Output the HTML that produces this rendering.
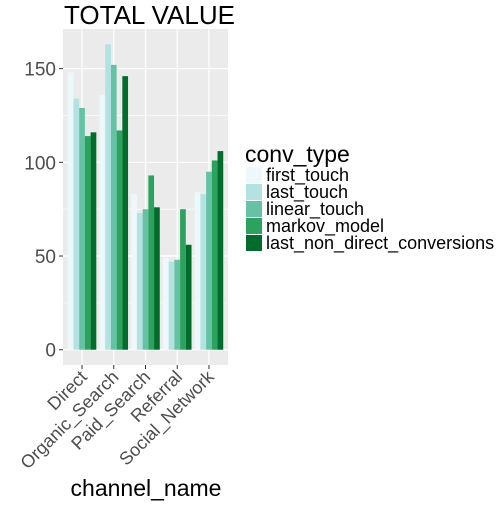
<!DOCTYPE html>
<html><head><meta charset="utf-8"><style>
body{margin:0;background:#fff;font-family:"Liberation Sans",sans-serif}
</style></head><body>
<svg id="c" width="504" height="504" xmlns="http://www.w3.org/2000/svg">
<text x="64" y="24" font-size="26" fill="#000">TOTAL VALUE</text>
<rect x="63" y="29" width="165" height="336" fill="#ebebeb"/>
<g id="grid"></g><g id="bars"></g><g id="axes"></g>
<text x="146" y="496" font-size="23" text-anchor="middle">channel_name</text>
<g id="legend"></g>
</svg>
<script>
const categories=["Direct","Organic_Search","Paid_Search","Referral","Social_Network"];
const seriesNames=["first_touch","last_touch","linear_touch","markov_model","last_non_direct_conversions"];
const firstTouch=[148,136,83,49,84];
const lastTouch=[134,163,73,47,83];
const linearTouch=[129,152,75,48,95];
const markovModel=[114,117,93,75,101];
const lastNonDirect=[116,146,76,56,106];
const yTicks=[0,50,100,150];
const series=[firstTouch,lastTouch,linearTouch,markovModel,lastNonDirect];
const colors=["#edf8fb","#b2e2e2","#66c2a4","#2ca25f","#006d2c"];
const NS="http://www.w3.org/2000/svg";
const px0=63,px1=228,py0=29,py1=365;
const ymin=-8.15,ymax=171.15;
const y=v=>py1-(v-ymin)/(ymax-ymin)*(py1-py0);
const step=(px1-px0)/(categories.length+0.2);
const x=i=>px0+step*(0.6+i);
function mk(t,a,p){const e=document.createElementNS(NS,t);for(const k in a)e.setAttribute(k,a[k]);document.getElementById(p).appendChild(e);return e;}
for(let i=0;i<yTicks.length-1;i++){const m=(yTicks[i]+yTicks[i+1])/2;
const g=mk("line",{x1:px0,x2:px1,y1:y(m),y2:y(m),stroke:"#fff","stroke-width":0.6},"grid");

}
yTicks.forEach(t=>{const g=mk("line",{x1:px0,x2:px1,y1:y(t),y2:y(t),stroke:"#fff","stroke-width":1.2},"grid");


const tk=mk("line",{x1:px0-4,x2:px0,y1:y(t),y2:y(t),stroke:"#333","stroke-width":1},"axes");


const l=mk("text",{x:px0-7,y:y(t)+7,"font-size":19,fill:"#4d4d4d","text-anchor":"end"},"axes");l.textContent=t;

});
categories.forEach((c,i)=>{const g=mk("line",{x1:x(i),x2:x(i),y1:py0,y2:py1,stroke:"#fff","stroke-width":1.2},"grid");


const tk=mk("line",{x1:x(i),x2:x(i),y1:py1,y2:py1+4,stroke:"#333"},"axes");


const l=mk("text",{"font-size":18,fill:"#4d4d4d","text-anchor":"end",transform:`translate(${x(i)+6},${py1+13}) rotate(-45)`},"axes");l.textContent=c;


const bw=step*0.9/series.length;
series.forEach((s,j)=>{const b=mk("rect",{x:x(i)-step*0.45+j*bw,y:y(s[i]),width:bw,height:y(0)-y(s[i]),fill:colors[j]},"bars");

});});
const lt=mk("text",{x:245,y:162,"font-size":23},"legend");lt.textContent="conv_type";


seriesNames.forEach((n,j)=>{const r=mk("rect",{x:246,y:167+j*17,width:16,height:16,fill:colors[j]},"legend");


const t=mk("text",{x:266,y:181+j*17,"font-size":18},"legend");t.textContent=n;

});
</script>
</body></html>
